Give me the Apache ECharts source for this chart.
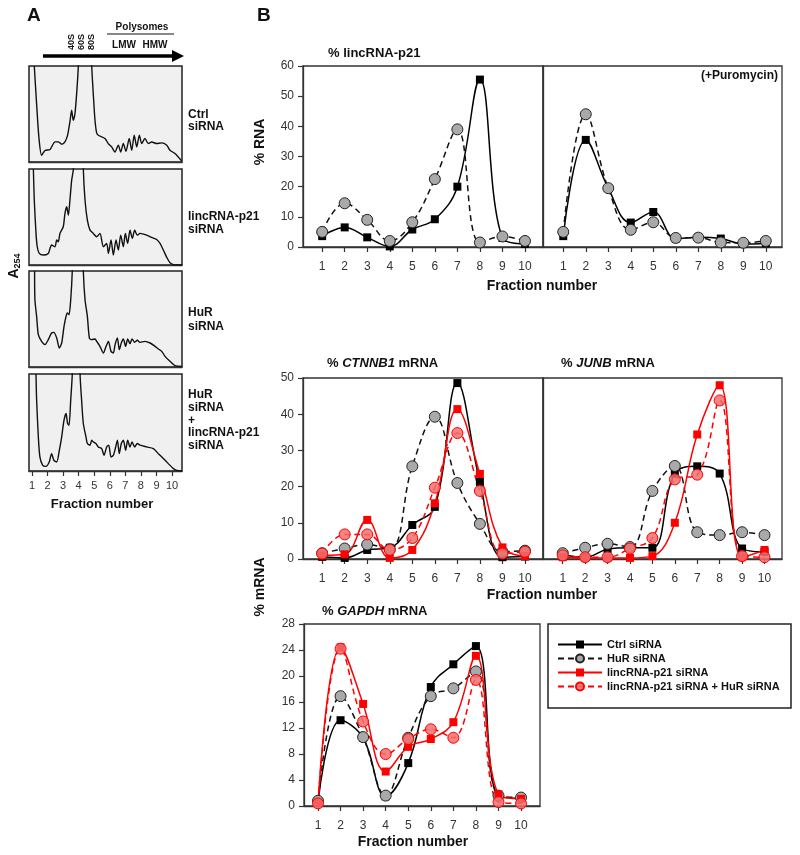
<!DOCTYPE html>
<html><head><meta charset="utf-8">
<script src="https://cdn.jsdelivr.net/npm/echarts@6/dist/echarts.min.js"></script>
<style>html,body{margin:0;padding:0;background:#fff}#c{width:800px;height:855px}</style>
</head><body><div id="c"></div>
<script>
// ---------- DATA ----------
const fractions = [1,2,3,4,5,6,7,8,9,10];
const fractionTicks = [1,2,3,4,5,6,7,8,9,10];
const seriesNames = ['Ctrl siRNA','HuR siRNA','lincRNA-p21 siRNA','lincRNA-p21 siRNA + HuR siRNA'];
const profileLabels = [['Ctrl','siRNA'],['lincRNA-p21','siRNA'],['HuR','siRNA'],['HuR','siRNA','+','lincRNA-p21','siRNA']];

// Panel A polysome profiles (fraction position, A254 relative)
const profCtrlX = [1.15,1.30,1.45,1.62,1.84,2.16,2.48,2.69,2.91,3.12,3.29,3.44,3.55,3.65,3.76,3.87,3.98,4.40,4.84,4.94,5.05,5.16,5.26,5.69,5.90,6.12,6.33,6.55,6.70,6.87,7.04,7.25,7.41,7.57,7.73,7.90,8.05,8.26,8.47,8.69,9.01,9.33,9.66,9.87,10.19,10.62];
const profCtrlY = [100,60,25,7,12,13,21,21,18.5,21,28,42,54,43.5,50,71,100,300,100,71,43.5,30,27.9,24.5,19.2,15.7,10.4,17.5,10.4,19.2,11.2,24.5,12.2,27.9,15.7,27.9,19.2,24.5,19.2,20.9,19.2,19.9,17.5,12.2,8.8,1];
const profLincX = [1.09,1.15,1.26,1.34,1.47,1.73,2.05,2.16,2.26,2.48,2.59,2.69,2.80,3.01,3.12,3.23,3.34,3.44,3.55,3.66,3.98,4.30,4.41,4.56,4.73,4.94,5.16,5.37,5.59,5.80,5.91,6.08,6.23,6.40,6.55,6.70,6.87,7.00,7.15,7.30,7.45,7.60,7.77,7.94,8.37,8.69,9.01,9.23,9.44,9.66,9.87,10.19,10.64];
const profLincY = [100,67.5,32.9,19,12.1,10.4,12.1,17.3,20.8,19,26,24.2,32.9,39.8,53.6,60.6,51.9,67.5,88.2,100,300,100,67.5,46.7,36.3,32.9,29.4,32.9,19,22.5,12.1,26,10.4,26,15.6,31.1,19,32.9,22.5,36.3,27.7,36.3,31.1,32.9,31.1,28.7,26.6,22.5,15.6,8,2.4,0,0];
const profHuRX = [1.17,1.19,1.30,1.41,1.62,1.84,2.05,2.26,2.41,2.59,2.76,2.91,3.06,3.19,3.27,3.38,3.49,3.59,3.95,4.30,4.41,4.56,4.69,4.84,5.05,5.16,5.37,5.59,5.76,5.91,6.08,6.23,6.34,6.49,6.61,6.74,6.87,7.02,7.15,7.30,7.43,7.60,7.77,7.94,8.26,8.59,8.91,9.12,9.34,9.55,9.87,10.19,10.64];
const profHuRY = [100,70.1,52.8,33.7,26.7,23.3,28.5,35.4,36.1,30.2,19.8,25,42.4,52.8,56.3,54.5,70.1,100,300,100,70.1,52.8,30.2,28.5,29.2,26.7,21.5,14.6,21.5,26.7,16.3,14.6,23.3,30.2,18.1,25,29.2,21.5,29.2,24.3,29.2,25.7,27.8,25.7,26.7,25,21.5,18.8,16.3,11.1,5.9,1.4,0.7];
const profBothX = [1.26,1.30,1.41,1.51,1.69,1.90,2.11,2.26,2.41,2.59,2.76,2.91,3.06,3.19,3.29,3.38,3.49,3.59,3.85,4.09,4.19,4.30,4.47,4.56,4.73,4.84,4.94,5.11,5.26,5.48,5.63,5.80,5.93,6.08,6.23,6.38,6.49,6.61,6.74,6.87,7.02,7.15,7.30,7.43,7.60,7.77,7.94,8.37,8.80,9.12,9.44,9.76,10.09,10.30,10.64];
const profBothY = [100,73.1,35.2,14.5,5.9,4.8,9.3,17.9,11,9.3,21.4,35.2,52.4,59.3,49,47.2,73.1,100,300,100,73.1,49,35.2,28.3,26.6,31.7,30,28.3,24.8,23.1,16.2,24.8,26.6,14.5,16.2,24.8,31.7,17.9,28.3,31.7,21.4,31.7,24.8,30,24.8,28.3,26.6,24.8,23.1,17.9,12.8,7.6,2.4,0.7,0];

// Panel B: % RNA per fraction
const lincCtrl = [3.6,6.5,3.2,0.2,5.8,9.2,20,55.5,3,1];
const lincHuR  = [5,14.5,9,2,8.2,22.5,39,1.5,3.5,2];
const puroCtrl = [3.6,35.5,19.5,8.1,11.6,2.8,3.2,2.8,1,1.2];
const puroHuR  = [5,44,19.5,5.7,8.2,3,3.1,1.5,1.4,2];
const ctnnb1Ctrl    = [0.6,0.3,2.5,3.1,9.4,14.4,48.6,21.3,0.5,0.7];
const ctnnb1HuR     = [1.6,2.9,4,2.7,25.6,39.3,21,9.7,2,2.3];
const ctnnb1Linc    = [1,1.3,10.8,0.3,2.5,15.4,41.4,23.5,3.2,0.8];
const ctnnb1LincHuR = [1.5,6.8,6.8,2.5,5.8,19.7,34.8,18.8,1.5,2];
const junbCtrl    = [1.2,0.5,2.7,3.1,3.1,23.6,25.6,23.6,2.9,2];
const junbHuR     = [1.6,3.1,4.2,3.3,18.8,25.7,7.4,6.6,7.4,6.6];
const junbLinc    = [0.5,0.3,0.3,0.3,0.8,10,34.4,48,0.5,2.5];
const junbLincHuR = [1,0.5,0.5,2.9,5.8,22,23.3,43.8,0.8,0.5];
const gapdhCtrl    = [0.5,13.2,10.5,1.5,6.6,18.3,21.8,24.6,1.5,1.2];
const gapdhHuR     = [0.8,16.9,10.6,1.6,10.5,16.9,18.1,20.7,1.6,1.3];
const gapdhLinc    = [0.5,24.4,15.7,5.3,9.1,10.3,12.9,23.1,1.8,1.1];
const gapdhLincHuR = [0.4,24.2,13,8,10.3,11.8,10.5,19.4,0.6,0.4];

// ---------- CHART ----------
const FONT = 'Liberation Sans, Arial, sans-serif';
const RED = '#f00';
const chart = echarts.init(document.getElementById('c'), null, {renderer:'canvas'});

const grids = [
  {left:29, top:66, width:153, height:96, show:true, backgroundColor:'#f0f0f0', borderColor:'#222', borderWidth:1.5},
  {left:29, top:169, width:153, height:96, show:true, backgroundColor:'#f0f0f0', borderColor:'#222', borderWidth:1.5},
  {left:29, top:271, width:153, height:96, show:true, backgroundColor:'#f0f0f0', borderColor:'#222', borderWidth:1.5},
  {left:29, top:374, width:153, height:97, show:true, backgroundColor:'#f0f0f0', borderColor:'#222', borderWidth:1.5},
  {left:303, top:66, width:240, height:181, show:true, borderColor:'#333', borderWidth:1.3},
  {left:543, top:66, width:239, height:181, show:true, borderColor:'#333', borderWidth:1.3},
  {left:303, top:378, width:240, height:181, show:true, borderColor:'#333', borderWidth:1.3},
  {left:543, top:378, width:239, height:181, show:true, borderColor:'#333', borderWidth:1.3},
  {left:304, top:624, width:236, height:182, show:true, borderColor:'#333', borderWidth:1.3}
];

function xA(gi, min, max, showLabels){
  return {type:'value', gridIndex:gi, min:min, max:max,
    splitLine:{show:false},
    axisLine:{show:true, onZero:false, lineStyle:{color:'#333', width:1.3}},
    axisTick:{show:showLabels, inside:false, length:5, customValues:fractionTicks, lineStyle:{color:'#333', width:1.2}},
    axisLabel:{show:showLabels, customValues:fractionTicks, margin:gi<4?9:14, color:'#333', fontFamily:FONT, fontSize:gi<4?11:12}};
}
function yA(gi, max, interval, showLabels){
  return {type:'value', gridIndex:gi, min:0, max:max, interval:interval||undefined,
    splitLine:{show:false},
    axisLine:{show:gi>=4, lineStyle:{color:'#333', width:1.3}},
    axisTick:{show:showLabels, inside:false, length:5, lineStyle:{color:'#333', width:1.2}},
    axisLabel:{show:showLabels, margin:9, color:'#333', fontFamily:FONT, fontSize:12}};
}
const xAxes = [
  xA(0,0.81,10.64,false), xA(1,0.81,10.64,false), xA(2,0.81,10.64,false), xA(3,0.81,10.64,true),
  xA(4,0.15,10.8,true), xA(5,0.1,10.72,true), xA(6,0.15,10.8,true), xA(7,0.12,10.78,true), xA(8,0.38,10.84,true)
];
const yAxes = [
  yA(0,100,0,false), yA(1,100,0,false), yA(2,100,0,false), yA(3,100,0,false),
  yA(4,60,10,true), yA(5,60,10,false), yA(6,50,10,true), yA(7,50,10,false), yA(8,28,4,true)
];

function zip(xs, ys){ return xs.map((x,i)=>[x, ys[i]]); }
function profile(gi, xs, ys){
  return {type:'line', xAxisIndex:gi, yAxisIndex:gi, data:zip(xs,ys), showSymbol:false, symbol:'none',
    smooth:0.25, clip:true, silent:true, animation:false, lineStyle:{color:'#111', width:1.4}};
}
const styles = {
  ctrl: {symbol:'rect', symbolSize:8, itemStyle:{color:'#000'}, lineStyle:{color:'#000', width:1.5, type:'solid'}},
  hur:  {symbol:'circle', symbolSize:11, itemStyle:{color:'#a9a9a9', borderColor:'#222', borderWidth:1}, lineStyle:{color:'#111', width:1.5, type:[6,4]}},
  linc: {symbol:'rect', symbolSize:8, itemStyle:{color:RED}, lineStyle:{color:RED, width:1.5, type:'solid'}},
  both: {symbol:'circle', symbolSize:11, itemStyle:{color:'rgba(242,110,110,0.85)', borderColor:RED, borderWidth:1}, lineStyle:{color:RED, width:1.5, type:[6,4]}}
};
function pts(gi, kind, name, vals){
  const s = styles[kind];
  return {type:'line', name:name, xAxisIndex:gi, yAxisIndex:gi, data:zip(fractions, vals),
    smooth:0.4, clip:false, animation:false, symbol:s.symbol, symbolSize:s.symbolSize, showAllSymbol:true,
    itemStyle:s.itemStyle, lineStyle:s.lineStyle, emphasis:{disabled:true}};
}

const series = [
  profile(0, profCtrlX, profCtrlY), profile(1, profLincX, profLincY),
  profile(2, profHuRX, profHuRY), profile(3, profBothX, profBothY),
  pts(4,'ctrl',seriesNames[0],lincCtrl), pts(4,'hur',seriesNames[1],lincHuR),
  pts(5,'ctrl',seriesNames[0],puroCtrl), pts(5,'hur',seriesNames[1],puroHuR),
  pts(6,'ctrl',seriesNames[0],ctnnb1Ctrl), pts(6,'hur',seriesNames[1],ctnnb1HuR),
  pts(6,'linc',seriesNames[2],ctnnb1Linc), pts(6,'both',seriesNames[3],ctnnb1LincHuR),
  pts(7,'ctrl',seriesNames[0],junbCtrl), pts(7,'hur',seriesNames[1],junbHuR),
  pts(7,'linc',seriesNames[2],junbLinc), pts(7,'both',seriesNames[3],junbLincHuR),
  pts(8,'ctrl',seriesNames[0],gapdhCtrl), pts(8,'hur',seriesNames[1],gapdhHuR),
  pts(8,'linc',seriesNames[2],gapdhLinc), pts(8,'both',seriesNames[3],gapdhLincHuR)
];

function txt(x, y, text, size, opts){
  opts = opts || {};
  return {type:'text', x:x, y:y, rotation:opts.rot||0, z:10,
    style:{text:text, fill:opts.color||'#111', font:(opts.weight||'bold')+' '+size+'px '+FONT,
      textAlign:opts.align||'left', textVerticalAlign:'middle'}};
}
const richTitle = {
  b:{fontFamily:FONT, fontWeight:'bold', fontSize:13, fill:'#111'},
  i:{fontFamily:FONT, fontWeight:'bold', fontStyle:'italic', fontSize:13, fill:'#111'}
};
const graphics = [
  txt(27,16,'A',19), txt(257,16,'B',19),
  txt(72,42,'40S',9,{rot:Math.PI/2, align:'center'}),
  txt(82,42,'60S',9,{rot:Math.PI/2, align:'center'}),
  txt(92,42,'80S',9,{rot:Math.PI/2, align:'center'}),
  txt(142,27,'Polysomes',10,{align:'center'}),
  {type:'line', shape:{x1:107,y1:34,x2:174,y2:34}, style:{stroke:'#111', lineWidth:1}},
  txt(124,45,'LMW',10,{align:'center'}), txt(155,45,'HMW',10,{align:'center'}),
  {type:'line', shape:{x1:43,y1:56,x2:175,y2:56}, style:{stroke:'#000', lineWidth:3.5}},
  {type:'polygon', shape:{points:[[172,50],[184,56],[172,62]]}, style:{fill:'#000'}},
  {type:'text', x:14, y:266, rotation:Math.PI/2, z:10, style:{text:'{a|A}{s|254}', textAlign:'center', textVerticalAlign:'middle',
     rich:{a:{fontFamily:FONT, fontWeight:'bold', fontSize:14, fill:'#111'}, s:{fontFamily:FONT, fontWeight:'bold', fontSize:9, fill:'#111', padding:[7,0,0,0]}}}},
  txt(102,504,'Fraction number',13,{align:'center'}),
  txt(260,142,'% RNA',14,{rot:Math.PI/2, align:'center'}),
  txt(260,587,'% mRNA',14,{rot:Math.PI/2, align:'center'}),
  txt(328,53,'% lincRNA-p21',13),
  txt(778,76,'(+Puromycin)',12,{align:'right'}),
  txt(542,286,'Fraction number',14,{align:'center'}),
  txt(542,595,'Fraction number',14,{align:'center'}),
  txt(413,842,'Fraction number',14,{align:'center'}),
  {type:'text', x:327, y:363, z:10, style:{text:'{b|% }{i|CTNNB1}{b| mRNA}', textVerticalAlign:'middle', rich:richTitle}},
  {type:'text', x:561, y:363, z:10, style:{text:'{b|% }{i|JUNB}{b| mRNA}', textVerticalAlign:'middle', rich:richTitle}},
  {type:'text', x:322, y:611, z:10, style:{text:'{b|% }{i|GAPDH}{b| mRNA}', textVerticalAlign:'middle', rich:richTitle}},
  {type:'rect', shape:{x:548, y:624, width:243, height:84}, z:1, style:{fill:'#fff', stroke:'#222', lineWidth:1.5}}
];
const labelY = [[115,127],[217,230],[313,327],[395,408,421,433,446]];
profileLabels.forEach((lines, k)=>{
  lines.forEach((t, j)=>{ graphics.push(txt(188, labelY[k][j], t, 12)); });
});

chart.setOption({
  animation:false,
  backgroundColor:'#fff',
  grid:grids, xAxis:xAxes, yAxis:yAxes, series:series,
  legend:{data:seriesNames, orient:'vertical', left:552, top:634, itemWidth:44, itemHeight:10, itemGap:3, z:5,
    selectedMode:false, textStyle:{fontFamily:FONT, fontWeight:'bold', fontSize:11, color:'#111'}},
  graphic:graphics
});
</script></body></html>
